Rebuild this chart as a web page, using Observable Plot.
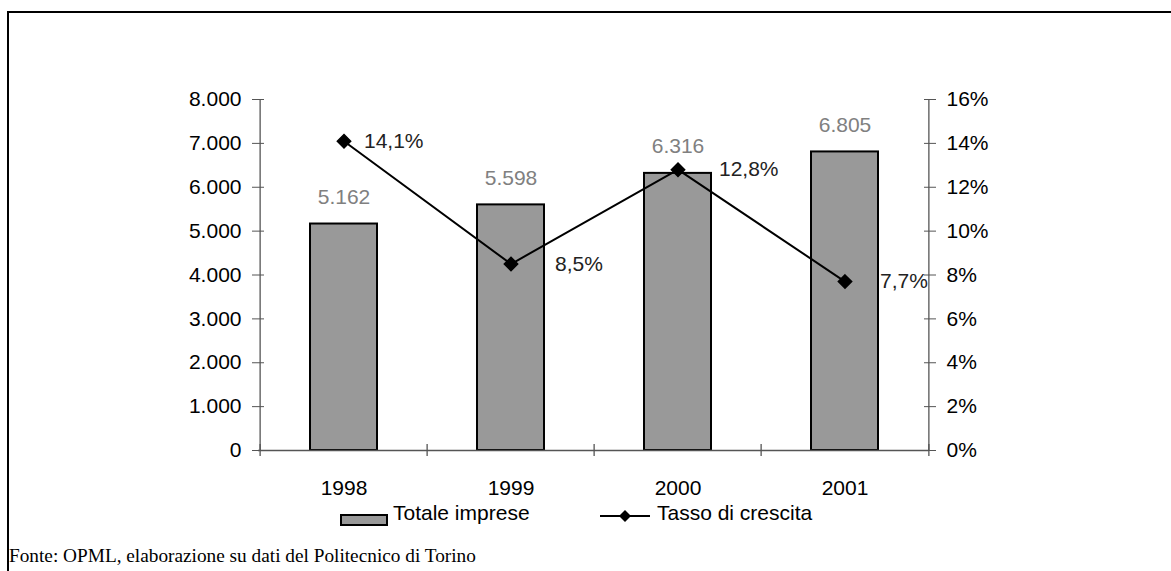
<!DOCTYPE html>
<html><head><meta charset="utf-8">
<script src="https://cdn.jsdelivr.net/npm/d3@7"></script>
<script src="https://cdn.jsdelivr.net/npm/@observablehq/plot@0.6"></script>
<style>
html,body{margin:0;padding:0;background:#fff;}
body{width:1171px;height:571px;overflow:hidden;position:relative;font-family:"Liberation Sans",Arial,sans-serif;}
#frame{position:absolute;left:7px;top:11px;width:1164px;height:560px;border-top:2px solid #000;border-left:2px solid #000;box-sizing:border-box;}
#chart{position:absolute;left:0;top:0;}
.leg{position:absolute;font-size:21px;line-height:24px;color:#000;white-space:nowrap;}
#caption{position:absolute;left:9px;top:545px;font-family:"Liberation Serif","Times New Roman",serif;font-size:19.3px;color:#000;white-space:nowrap;}
</style></head>
<body>
<div id="frame"></div>
<div id="chart"></div>
<div id="legend"></div>
<div id="caption">Fonte: OPML, elaborazione su dati del Politecnico di Torino</div>
<script>
// ---- data ----
const years = ["1998", "1999", "2000", "2001"];
const totaleImprese = [5162, 5598, 6316, 6805];
const tassoCrescita = [14.1, 8.5, 12.8, 7.7];
const leftTicks = [0, 1000, 2000, 3000, 4000, 5000, 6000, 7000, 8000];
const rightTicks = [0, 2, 4, 6, 8, 10, 12, 14, 16];
const seriesNames = ["Totale imprese", "Tasso di crescita"];

const rows = years.map((year, i) => ({year, totale: totaleImprese[i], tasso: tassoCrescita[i]}));

const it = d3.formatLocale({decimal: ",", thousands: ".", grouping: [3], currency: ["", " €"]});
const fmtInt = it.format(",");
const fmtPct = it.format(".1f");

const yMax = 8000, pMax = 16, K = yMax / pMax; // percent -> left-axis units
const W = 1171, mL = 258, mR = 242;
const bw = (W - mL - mR) / years.length;

// per-label horizontal offsets of rate labels (as placed in the original)
const rateLabelDx = [20, 44, 41, 35];

const axisColor = "#555";

const chart = Plot.plot({
  width: W, height: 500,
  marginLeft: mL, marginRight: mR, marginTop: 99, marginBottom: 50,
  style: {fontFamily: "Liberation Sans, Arial, sans-serif", fontSize: "21px", color: "#000", background: "transparent", overflow: "visible"},
  x: {domain: years, padding: 0, axis: null},
  y: {domain: [0, yMax], axis: null},
  marks: [
    // bars
    Plot.barY(rows, {x: "year", y: "totale", fill: "#999999", stroke: "#000", strokeWidth: 2, insetLeft: 50, insetRight: 50}),
    // axis lines
    Plot.ruleY([0], {stroke: axisColor, strokeWidth: 1.3}),
    Plot.ruleX([years[0]], {y1: 0, y2: yMax, dx: -bw / 2, stroke: axisColor, strokeWidth: 1.3}),
    Plot.ruleX([years[years.length - 1]], {y1: 0, y2: yMax, dx: bw / 2, stroke: axisColor, strokeWidth: 1.3}),
    // x boundary ticks
    Plot.ruleX(years, {y1: 0, y2: 0, insetTop: -6, insetBottom: -6, dx: -bw / 2, stroke: axisColor, strokeWidth: 1.3}),
    Plot.ruleX([years[years.length - 1]], {y1: 0, y2: 0, insetTop: -6, insetBottom: -6, dx: bw / 2, stroke: axisColor, strokeWidth: 1.3}),
    // y axes
    Plot.axisY({anchor: "left", ticks: leftTicks, tickFormat: fmtInt, tickSize: 12, dx: 6, tickPadding: 11, stroke: axisColor, fill: "#000", label: null}),
    Plot.axisY({anchor: "right", ticks: rightTicks.map(d => d * K), tickFormat: d => (d / K) + "%", tickSize: 12, dx: -6, tickPadding: 11, stroke: axisColor, fill: "#000", label: null}),
    // x labels
    Plot.axisX({tickSize: 0, tickPadding: 30, label: null, fill: "#000"}),
    // bar value labels
    Plot.text(rows, {x: "year", y: "totale", text: d => fmtInt(d.totale), dy: -27, fill: "#808080"}),
    // growth line
    Plot.line(rows, {x: "year", y: d => d.tasso * K, stroke: "#000", strokeWidth: 2}),
    Plot.dot(rows, {x: "year", y: d => d.tasso * K, symbol: "diamond2", r: 6, fill: "#000", stroke: "#000"}),
    ...rows.map((r, i) => Plot.text([r], {x: "year", y: d => d.tasso * K, text: d => fmtPct(d.tasso) + "%", textAnchor: "start", dx: rateLabelDx[i], fill: "#222"}))
  ]
});
document.getElementById("chart").append(chart);

// ---- legend ----
const legend = document.getElementById("legend");
legend.innerHTML = `
<div class="leg" style="left:340px;top:507px;">
  <svg width="48" height="14" style="vertical-align:middle"><rect x="1" y="2" width="46" height="10" fill="#999999" stroke="#000" stroke-width="2"/></svg>
</div>
<div class="leg" style="left:393px;top:501px;">${seriesNames[0]}</div>
<div class="leg" style="left:600px;top:505px;">
  <svg width="52" height="16"><line x1="0" y1="8" x2="50" y2="8" stroke="#000" stroke-width="2"/><path d="M25,2 L31,8 L25,14 L19,8 Z" fill="#000"/></svg>
</div>
<div class="leg" style="left:657px;top:501px;">${seriesNames[1]}</div>`;
</script>
</body></html>
